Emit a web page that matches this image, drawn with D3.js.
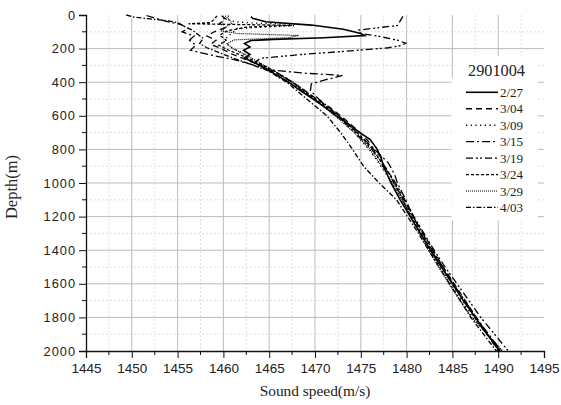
<!DOCTYPE html>
<html>
<head>
<meta charset="utf-8">
<script src="https://cdn.jsdelivr.net/npm/d3@7"></script>
<style>
  body { margin: 0; background: #fff; }
  svg { display: block; }
</style>
</head>
<body>
<svg id="chart" width="561" height="405"></svg>
<script>
// Float 2901004 sound-speed profiles: [depth (m), sound speed (m/s)]
const p0227 = [[10,1463.0],[20,1463.2],[40,1464.6],[60,1469.6],[85,1473.1],[110,1475.0],[122,1475.4],[135,1471],[145,1465.5],[152,1463.0],[170,1462.3],[190,1462.9],[210,1462.2],[235,1462.9],[255,1462.3],[280,1463.2],[310,1464.4],[340,1465.3],[370,1466.2],[400,1467.1],[450,1468.4],[500,1469.8],[550,1471.1],[600,1472.3],[650,1473.7],[700,1474.9],[740,1476.0],[800,1476.8],[850,1477.2],[900,1477.5],[1000,1478.3],[1100,1479.3],[1200,1480.4],[1300,1481.5],[1400,1482.6],[1500,1483.8],[1600,1485.0],[1700,1486.2],[1800,1487.5],[1900,1488.8],[2000,1490.2]];
const p0304 = [[5,1459.8],[25,1460.3],[50,1459.6],[75,1460.2],[100,1459],[125,1458.2],[150,1459.2],[175,1458.6],[200,1459.8],[230,1460.8],[260,1462.2],[290,1463.6],[330,1465.2],[370,1466.6],[400,1467.5],[450,1468.9],[500,1470.2],[550,1471.6],[600,1472.8],[650,1473.9],[700,1474.9],[750,1475.8],[800,1476.4],[850,1477.3],[900,1477.4],[950,1478.2],[1000,1478.6],[1100,1479.7],[1200,1480.7],[1300,1481.8],[1400,1482.9],[1500,1484.0],[1600,1485.2],[1700,1486.4],[1800,1487.6],[1900,1488.8],[2000,1490.0]];
const p0309 = [[5,1460.6],[20,1460.1],[40,1461.2],[50,1464],[56,1468.2],[64,1467.6],[80,1461.5],[105,1461.0],[130,1460.4],[160,1460.1],[190,1460.8],[220,1461.8],[260,1463.0],[300,1464.4],[350,1466.0],[400,1467.6],[450,1468.8],[500,1470.0],[600,1472.4],[700,1474.3],[800,1475.9],[900,1477.2],[1000,1478.4],[1100,1479.5],[1200,1480.6],[1400,1482.5],[1600,1484.8],[1800,1487.2],[2000,1490.4]];
const p0315 = [[3,1451.6],[20,1452.6],[38,1453.8],[55,1455.3],[80,1456.2],[100,1455.5],[125,1456.8],[150,1456.3],[180,1457.0],[210,1456.4],[240,1458.8],[270,1461.5],[300,1463.4],[325,1464.8],[345,1468.5],[360,1473.0],[385,1471.2],[410,1469.6],[450,1469.5],[500,1470.4],[600,1472.6],[700,1474.6],[800,1476.5],[880,1478.0],[950,1478.7],[1000,1479.0],[1100,1479.9],[1200,1480.7],[1400,1482.8],[1600,1485.1],[1800,1487.6],[2000,1490.3]];
const p0319 = [[8,1479.6],[35,1479.3],[62,1479.0],[75,1477.0],[90,1474.8],[110,1475.0],[125,1476.8],[150,1479.0],[168,1479.9],[182,1479.4],[195,1478.0],[215,1473.5],[235,1468.5],[258,1464.0],[285,1463.4],[320,1464.6],[360,1465.8],[400,1467.2],[500,1469.9],[600,1472.5],[700,1474.4],[800,1476.2],[900,1477.6],[1000,1478.8],[1100,1479.8],[1200,1480.8],[1300,1481.9],[1400,1483.0],[1500,1484.2],[1600,1485.5],[1700,1486.8],[1800,1488.1],[1900,1489.6],[2000,1491.1]];
const p0324 = [[5,1459.3],[25,1459.0],[45,1458.6],[52,1456.2],[57,1462],[62,1467.5],[72,1462.5],[95,1460.4],[120,1459.6],[150,1460.3],[180,1459.5],[210,1460.6],[250,1462.4],[290,1464.0],[330,1465.4],[370,1466.7],[400,1467.6],[500,1470.1],[600,1472.6],[700,1474.6],[800,1476.3],[900,1477.6],[1000,1478.7],[1100,1479.6],[1200,1480.5],[1400,1482.7],[1600,1485.0],[1800,1487.4],[2000,1490.1]];
const p0329 = [[5,1460.2],[30,1460.7],[50,1460.9],[70,1460.3],[95,1459.8],[110,1461.5],[122,1468.2],[135,1467.2],[148,1461.2],[170,1460.4],[200,1461.0],[235,1462.4],[270,1463.5],[310,1464.8],[350,1466.1],[400,1467.4],[500,1469.9],[600,1472.2],[700,1474.3],[800,1476.0],[900,1477.3],[1000,1478.5],[1100,1479.5],[1200,1480.4],[1400,1482.4],[1600,1484.6],[1800,1487.1],[2000,1490.5]];
const p0403 = [[0,1449.4],[12,1450.2],[22,1451.8],[32,1453.6],[45,1455.0],[65,1455.6],[90,1456.6],[115,1457.2],[140,1457.8],[170,1457.4],[195,1458.2],[225,1459.6],[255,1461.0],[290,1462.8],[330,1464.8],[370,1466.0],[400,1466.9],[450,1468.0],[500,1469.1],[600,1471.3],[700,1472.8],[800,1474.1],[900,1475.3],[1000,1477.0],[1100,1478.9],[1200,1480.1],[1300,1481.3],[1400,1482.4],[1600,1484.7],[1800,1487.0],[2000,1489.8]];

const seriesNames = ["2/27","3/04","3/09","3/15","3/19","3/24","3/29","4/03"];
const seriesData = [p0227,p0304,p0309,p0315,p0319,p0324,p0329,p0403];
const legendTitle = "2901004";

const speedTicks = [1445,1450,1455,1460,1465,1470,1475,1480,1485,1490,1495];
const depthTicks = [0,200,400,600,800,1000,1200,1400,1600,1800,2000];

// line styling per profile
const dashes = ["", "6,4", "1.2,3.5", "8,3,2,3", "7,3,2,2,2,3", "3,2", "1,1", "5,2,1.5,2"];
const widths = [1.6, 1.3, 1.4, 1.3, 1.3, 1.3, 1.2, 1.3];

const SERIF = "'Liberation Serif', 'Times New Roman', serif";
const SANS = "'Liberation Sans', Arial, sans-serif";

const svg = d3.select("#chart");
const x = d3.scaleLinear().domain([1445, 1495]).range([86, 544]);
const y = d3.scaleLinear().domain([0, 2000]).range([15, 351]);

svg.append("rect").attr("width", 561).attr("height", 405).attr("fill", "#fff");

// grid: minor dotted, major solid
const minorX = d3.range(1447.5, 1495, 5);
const minorY = d3.range(100, 2000, 200);
const grid = svg.append("g");
grid.selectAll(".mx").data(minorX).join("line")
  .attr("x1", d => x(d)).attr("x2", d => x(d)).attr("y1", y(0)).attr("y2", y(2000))
  .attr("stroke", "#d6d6d6").attr("stroke-width", 0.8).attr("stroke-dasharray", "2,2");
grid.selectAll(".my").data(minorY).join("line")
  .attr("x1", x(1445)).attr("x2", x(1495)).attr("y1", d => y(d)).attr("y2", d => y(d))
  .attr("stroke", "#d6d6d6").attr("stroke-width", 0.8).attr("stroke-dasharray", "2,2");
grid.selectAll(".Mx").data(speedTicks.slice(1, -1)).join("line")
  .attr("x1", d => x(d)).attr("x2", d => x(d)).attr("y1", y(0)).attr("y2", y(2000))
  .attr("stroke", "#bdbdbd").attr("stroke-width", 1);
grid.selectAll(".My").data(depthTicks.slice(1, -1)).join("line")
  .attr("x1", x(1445)).attr("x2", x(1495)).attr("y1", d => y(d)).attr("y2", d => y(d))
  .attr("stroke", "#bdbdbd").attr("stroke-width", 1);

// profiles
const line = d3.line().x(d => x(d[1])).y(d => y(d[0]));
svg.append("g").selectAll("path").data(seriesData).join("path")
  .attr("d", line)
  .attr("fill", "none")
  .attr("stroke", "#000")
  .attr("stroke-width", (d, i) => widths[i])
  .attr("stroke-dasharray", (d, i) => dashes[i] || null);

// legend
const lg = svg.append("g");
lg.append("rect").attr("x", 455).attr("y", 56).attr("width", 83).attr("height", 23).attr("fill", "#fff");
lg.append("rect").attr("x", 451.5).attr("y", 78).attr("width", 86.5).attr("height", 142).attr("fill", "#fff");
lg.append("text").attr("x", 496.5).attr("y", 76).attr("text-anchor", "middle")
  .style("font-family", SERIF).style("font-size", "16.3px")
  .attr("fill", "#222").text(legendTitle);
seriesNames.forEach((name, i) => {
  const yy = 92.3 + i * 16.45;
  lg.append("line").attr("x1", 466).attr("x2", 498).attr("y1", yy).attr("y2", yy)
    .attr("stroke", "#000").attr("stroke-width", widths[i])
    .attr("stroke-dasharray", dashes[i] || null);
  lg.append("text").attr("x", 500).attr("y", yy + 4.5)
    .style("font-family", SERIF).style("font-size", "13px")
    .attr("fill", "#222").text(name);
});

// axes
const xAxis = d3.axisBottom(x).tickValues(speedTicks).tickFormat(d3.format("d")).tickSize(7).tickPadding(5);
const gx = svg.append("g").attr("transform", `translate(0,${y(2000)})`).call(xAxis);
gx.selectAll("text").style("font-family", SANS).style("font-size", "13.5px").attr("fill", "#222");
gx.selectAll(".minor").data(minorX).join("line").attr("class", "minor")
  .attr("x1", d => x(d)).attr("x2", d => x(d)).attr("y1", 0).attr("y2", 4).attr("stroke", "#111");

const yAxis = d3.axisLeft(y).tickValues(depthTicks).tickFormat(d3.format("d")).tickSize(7).tickPadding(3);
const gy = svg.append("g").attr("transform", `translate(${x(1445)},0)`).call(yAxis);
gy.selectAll("text").style("font-family", SANS).style("font-size", "12.8px")
  .style("letter-spacing", "1px").attr("fill", "#222");
gy.selectAll(".minor").data(minorY).join("line").attr("class", "minor")
  .attr("x1", -4).attr("x2", 0).attr("y1", d => y(d)).attr("y2", d => y(d)).attr("stroke", "#111");
[gx, gy].forEach(g => {
  g.select(".domain").attr("stroke", "#111").attr("stroke-width", 1.3);
  g.selectAll(".tick line").attr("stroke", "#111");
});

// axis titles
svg.append("text").attr("x", 315).attr("y", 396).attr("text-anchor", "middle")
  .style("font-family", SERIF).style("font-size", "15.4px")
  .attr("fill", "#222").text("Sound speed(m/s)");
svg.append("text").attr("transform", "translate(17,187) rotate(-90)").attr("text-anchor", "middle")
  .style("font-family", SERIF).style("font-size", "16.5px")
  .attr("fill", "#222").text("Depth(m)");
</script>
</body>
</html>
